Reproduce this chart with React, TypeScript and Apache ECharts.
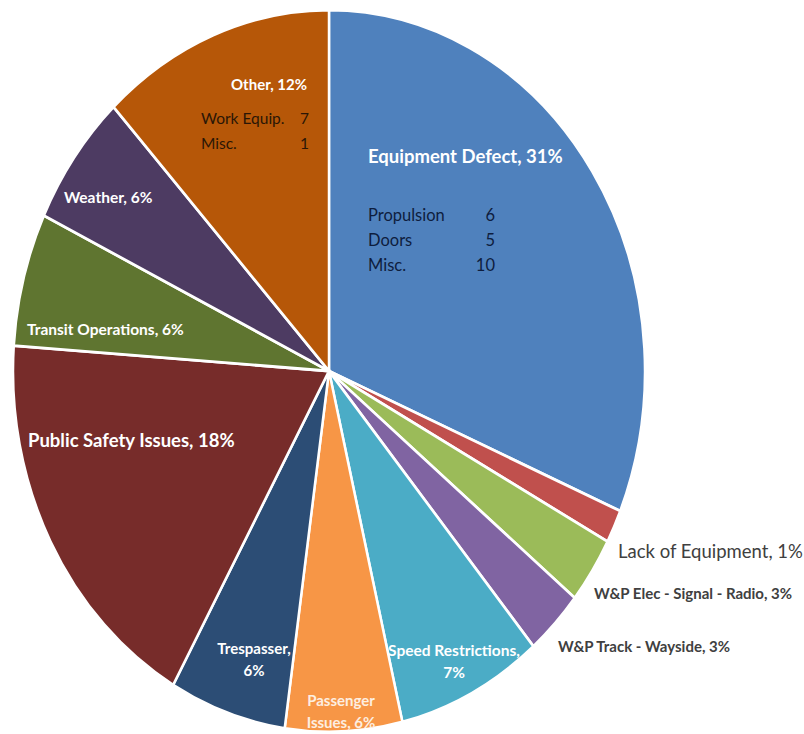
import React, { useEffect, useRef } from "react";
import * as echarts from "echarts";

const categories = [
  "Equipment Defect",
  "Lack of Equipment",
  "W&P Elec - Signal - Radio",
  "W&P Track - Wayside",
  "Speed Restrictions",
  "Passenger Issues",
  "Trespasser",
  "Public Safety Issues",
  "Transit Operations",
  "Weather",
  "Other",
];
const counts = [21, 1, 2, 2, 5, 4, 4, 12, 4, 4, 8];
const sliceColors = [
  "#4F81BD",
  "#C0504D",
  "#9BBB59",
  "#8064A2",
  "#4BACC6",
  "#F79646",
  "#2C4D75",
  "#772C2A",
  "#5F7530",
  "#4D3B62",
  "#B65708",
];
const equipNames = ["Propulsion", "Doors", "Misc."];
const equipValues = [6, 5, 10];
const otherNames = ["Work Equip.", "Misc."];
const otherValues = [7, 1];

// layout (pixel positions of labels)
const CX = 329;
const CY = 371;
const RX = 316;
const RY = 361;
const FONT = "Lato, 'Open Sans', sans-serif";

type LabelLayout = {
  x: number;
  y: number;
  align: "left" | "right" | "center";
  size: number;
  weight: string;
  color: string;
  mode: "one" | "pctBreak" | "wordBreak";
};

const labelLayout: LabelLayout[] = [
  { x: 368, y: 156, align: "left", size: 18.5, weight: "bold", color: "#ffffff", mode: "one" },
  { x: 618, y: 551, align: "left", size: 18.5, weight: "normal", color: "#404040", mode: "one" },
  { x: 594, y: 593, align: "left", size: 15, weight: "bold", color: "#404040", mode: "one" },
  { x: 558, y: 646, align: "left", size: 15, weight: "bold", color: "#404040", mode: "one" },
  { x: 454, y: 661, align: "center", size: 15.5, weight: "bold", color: "#ffffff", mode: "pctBreak" },
  { x: 341, y: 711, align: "center", size: 15, weight: "bold", color: "#fdeee0", mode: "wordBreak" },
  { x: 254, y: 659, align: "center", size: 15, weight: "bold", color: "#ffffff", mode: "pctBreak" },
  { x: 28, y: 440, align: "left", size: 18.5, weight: "bold", color: "#ffffff", mode: "one" },
  { x: 27, y: 329, align: "left", size: 15.5, weight: "bold", color: "#ffffff", mode: "one" },
  { x: 64, y: 197, align: "left", size: 15.5, weight: "bold", color: "#ffffff", mode: "one" },
  { x: 307, y: 84, align: "right", size: 15, weight: "bold", color: "#ffffff", mode: "one" },
];

export default function App() {
  const ref = useRef<HTMLDivElement>(null);

  useEffect(() => {
    document.body.style.margin = "0";
    if (!ref.current) return;
    const chart = echarts.init(ref.current, null, { renderer: "svg" });
    const total = counts.reduce((a, b) => a + b, 0);
    const cum: number[] = [];
    let acc = 0;
    counts.forEach((v) => {
      cum.push(acc);
      acc += v;
    });

    const pct = (v: number) => Math.round((v / total) * 100);

    const labelText = (i: number) => {
      const name = categories[i];
      const p = pct(counts[i]) + "%";
      const mode = labelLayout[i].mode;
      if (mode === "pctBreak") return `${name},\n${p}`;
      if (mode === "wordBreak") {
        const words = name.split(" ");
        return `${words[0]}\n${words.slice(1).join(" ")}, ${p}`;
      }
      return `${name}, ${p}`;
    };

    const labelElements: any[] = categories.map((_, i) => {
      const l = labelLayout[i];
      return {
        type: "text",
        x: l.x,
        y: l.y,
        z: 100,
        style: {
          text: labelText(i),
          fill: l.color,
          fontSize: l.size,
          fontWeight: l.weight,
          fontFamily: FONT,
          align: l.align,
          verticalAlign: "middle",
          lineHeight: 22,
        },
      };
    });

    const detailColorEquip = "#0e1d3d";
    const detailColorOther = "#2a1606";
    equipNames.forEach((n, k) => {
      const y = 215 + k * 25;
      labelElements.push({
        type: "text",
        x: 368,
        y,
        z: 100,
        style: { text: n, fill: detailColorEquip, fontSize: 16.5, fontFamily: FONT, align: "left", verticalAlign: "middle" },
      });
      labelElements.push({
        type: "text",
        x: 495,
        y,
        z: 100,
        style: { text: String(equipValues[k]), fill: detailColorEquip, fontSize: 16.5, fontFamily: FONT, align: "right", verticalAlign: "middle" },
      });
    });
    otherNames.forEach((n, k) => {
      const y = 118 + k * 25;
      labelElements.push({
        type: "text",
        x: 201,
        y,
        z: 100,
        style: { text: n, fill: detailColorOther, fontSize: 15.5, fontFamily: FONT, align: "left", verticalAlign: "middle" },
      });
      labelElements.push({
        type: "text",
        x: 309,
        y,
        z: 100,
        style: { text: String(otherValues[k]), fill: detailColorOther, fontSize: 15.5, fontFamily: FONT, align: "right", verticalAlign: "middle" },
      });
    });

    chart.setOption({
      animation: false,
      backgroundColor: "#ffffff",
      series: [
        {
          type: "custom",
          coordinateSystem: "none",
          data: counts.map((v, i) => ({ name: categories[i], value: v })),
          renderItem: (params: any, api: any) => {
            const i = params.dataIndex;
            const v = api.value(0);
            const start = -Math.PI / 2 + (cum[i] / total) * Math.PI * 2;
            const end = start + (v / total) * Math.PI * 2;
            return {
              type: "sector",
              x: CX,
              y: CY,
              scaleX: 1,
              scaleY: RY / RX,
              shape: { cx: 0, cy: 0, r: RX, r0: 0, startAngle: start, endAngle: end, clockwise: true },
              style: { fill: sliceColors[i], stroke: "#ffffff", lineWidth: 2.5, strokeNoScale: true },
            };
          },
        },
      ],
      graphic: { elements: labelElements },
    });
    return () => chart.dispose();
  }, []);

  return <div ref={ref} style={{ width: 804, height: 734 }} />;
}
